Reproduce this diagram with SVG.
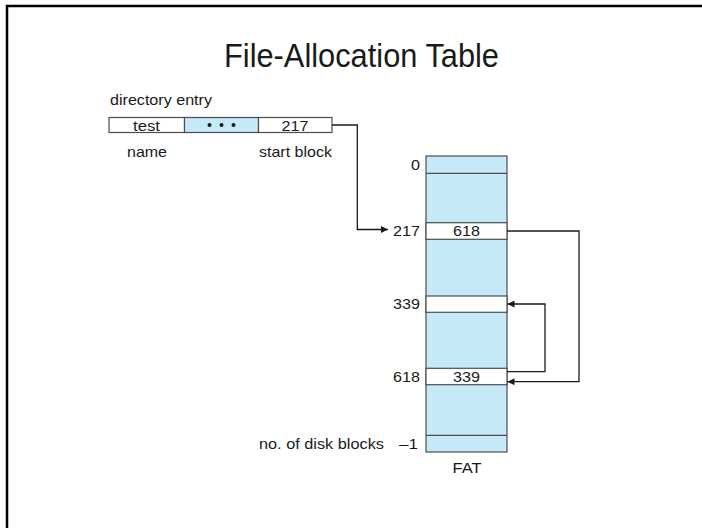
<svg xmlns="http://www.w3.org/2000/svg" width="702" height="528" viewBox="0 0 702 528">
<style>
text{font-family:"Liberation Sans",Arial,sans-serif;fill:#1a1a1a}
.s{font-size:14.5px}
.cell{stroke:#4d4d4d;stroke-width:1.2}
.blue{fill:#c6e9f8}
.white{fill:#ffffff}
.conn{fill:none;stroke:#1a1a1a;stroke-width:1.3}
</style>
<defs>
<marker id="arr" viewBox="0 0 10 10" refX="10" refY="5" markerWidth="8" markerHeight="7" markerUnits="userSpaceOnUse" orient="auto">
<path d="M0,0 L10,5 L0,10 Z" fill="#1a1a1a"/>
</marker>
</defs>
<rect x="0" y="0" width="702" height="528" fill="#ffffff"/>
<path d="M7,528 L7,6 L702,6" fill="none" stroke="#000" stroke-width="2.5"/>
<text x="361.5" y="67" font-size="33" text-anchor="middle" textLength="275" lengthAdjust="spacingAndGlyphs">File-Allocation Table</text>

<g id="directory-entry">
<text class="s" x="110" y="105" textLength="102" lengthAdjust="spacingAndGlyphs">directory entry</text>
<rect class="cell white" x="109" y="117.5" width="75.5" height="15"/>
<rect class="cell blue" x="184.5" y="117.5" width="74" height="15"/>
<rect class="cell white" x="258.5" y="117.5" width="73.5" height="15"/>
<text class="s" x="146.5" y="130.5" text-anchor="middle" textLength="27" lengthAdjust="spacingAndGlyphs">test</text>
<circle cx="209.5" cy="125" r="2" fill="#1a1a1a"/>
<circle cx="221.5" cy="125" r="2" fill="#1a1a1a"/>
<circle cx="233.5" cy="125" r="2" fill="#1a1a1a"/>
<text class="s" x="295" y="130.5" text-anchor="middle" textLength="27" lengthAdjust="spacingAndGlyphs">217</text>
<text class="s" x="147" y="157" text-anchor="middle" textLength="40" lengthAdjust="spacingAndGlyphs">name</text>
<text class="s" x="295.5" y="157" text-anchor="middle" textLength="73" lengthAdjust="spacingAndGlyphs">start block</text>
</g>

<g id="fat">
<rect class="cell blue" x="426" y="156" width="81" height="296"/>
<rect class="cell white" x="426" y="222.7" width="81" height="16.6"/>
<rect class="cell white" x="426" y="296" width="81" height="16.3"/>
<rect class="cell white" x="426" y="368.3" width="81" height="16.4"/>
<line class="cell" x1="426" y1="173.3" x2="507" y2="173.3"/>
<line class="cell" x1="426" y1="435.3" x2="507" y2="435.3"/>
<text class="s" x="466.5" y="235.5" text-anchor="middle" textLength="27" lengthAdjust="spacingAndGlyphs">618</text>
<text class="s" x="466.5" y="381.5" text-anchor="middle" textLength="27" lengthAdjust="spacingAndGlyphs">339</text>
<text class="s" x="420" y="170" text-anchor="end" textLength="9" lengthAdjust="spacingAndGlyphs">0</text>
<text class="s" x="420" y="235.5" text-anchor="end" textLength="27" lengthAdjust="spacingAndGlyphs">217</text>
<text class="s" x="420" y="309" text-anchor="end" textLength="27" lengthAdjust="spacingAndGlyphs">339</text>
<text class="s" x="420" y="381.5" text-anchor="end" textLength="27" lengthAdjust="spacingAndGlyphs">618</text>
<text class="s" x="418" y="449" text-anchor="end" textLength="19" lengthAdjust="spacingAndGlyphs">–1</text>
<text class="s" x="384" y="449" text-anchor="end" textLength="125" lengthAdjust="spacingAndGlyphs">no. of disk blocks</text>
<text class="s" x="467" y="473" text-anchor="middle" textLength="29" lengthAdjust="spacingAndGlyphs">FAT</text>
</g>

<g id="connectors">
<polyline class="conn" points="332,125 357.3,125 357.3,229.5 388,229.5" marker-end="url(#arr)"/>
<polyline class="conn" points="507,231 579,231 579,381.7 507.5,381.7" marker-end="url(#arr)"/>
<polyline class="conn" points="507,371.7 545,371.7 545,304 507.5,304" marker-end="url(#arr)"/>
</g>
</svg>
